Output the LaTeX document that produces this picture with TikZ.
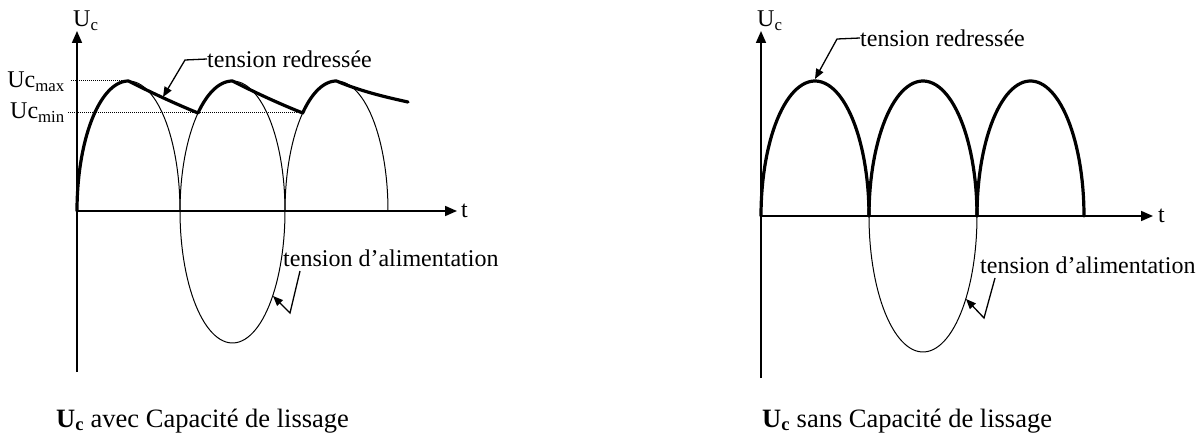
\documentclass[tikz,border=0pt]{standalone}
\usepackage{fontspec}
\setmainfont{Liberation Serif}
\usetikzlibrary{arrows.meta}

\begin{document}
\begin{tikzpicture}[
    x=1pt, y=-1pt,
    axis/.style={line width=1.7pt, -{Triangle[length=12pt, width=10pt]}},
    wave/.style={line width=1pt, samples=60},
    redr/.style={line width=3.2pt, samples=60, line join=round, line cap=round},
    lead/.style={line width=1.3pt, -{Triangle[length=10pt, width=8pt]}},
    dotl/.style={line width=1pt, densely dotted},
    lbl/.style={font=\fontsize{24}{27}\selectfont, inner sep=0pt, anchor=west},
    ax/.style={font=\fontsize{24}{26}\selectfont, inner sep=0pt},
    captxt/.style={font=\fontsize{26.5}{30}\selectfont, inner sep=0pt, anchor=base west}
  ]
  \useasboundingbox (0,0) rectangle (1203,441);

  % avec capacite de lissage
  \coordinate (oL) at (77,211);
  \coordinate (bL) at (77,372);
  \coordinate (yL) at (77,31);
  \coordinate (xL) at (457,211);
  \coordinate (pk1) at (128.5,81);
  \coordinate (vl2) at (302.7,113);
  \draw[axis] (bL) -- (yL);
  \draw[axis] (oL) -- (xL);
  \node[ax, anchor=west] (uL) at (73,21) {U\textsubscript{c}};
  \node[ax, anchor=west] (tL) at (461,211) {t};
  \node[ax, anchor=east] (maxL) at (65,82) {Uc\textsubscript{max}};
  \node[ax, anchor=east] (minL) at (65,113) {Uc\textsubscript{min}};
  \draw[dotl] (maxL.east |- pk1) ++(6,0) -- (pk1);
  \draw[dotl] (minL.east |- vl2) ++(3,0) -- (vl2);
  \foreach \cx/\rx in {128.5/51.5, 232.5/52.5, 336.5/51.5}
    \draw[wave] plot[domain=0:180] ({\cx-\rx*cos(\x)},{211-130*sin(\x)});
  \draw[wave] plot[domain=0:180] ({232.5-52.5*cos(\x)},{211+132*sin(\x)});
  \draw[redr] plot[domain=0:90] ({128.5-51.5*cos(\x)},{211-130*sin(\x)})
    .. controls (152,93) and (176,104) .. (198,113)
    -- plot[domain=48.9:90] ({232.5-52.5*cos(\x)},{211-130*sin(\x)})
    .. controls (256,93) and (280,104) .. (vl2)
    -- plot[domain=48.9:90] ({336.5-51.5*cos(\x)},{211-130*sin(\x)})
    .. controls (360,91) and (385,97) .. (408,102);
  \node[lbl] (redL) at (207,59) {tension redressée};
  \coordinate (kL) at (185,60);
  \coordinate (pL) at (163,97);
  \draw[lead] (redL.west) -- (kL) -- (pL);
  \node[lbl] (aliL) at (283,258) {tension d’alimentation};
  \coordinate (aLa) at (300,271);
  \coordinate (aLb) at (290,313);
  \coordinate (aLc) at (273,296);
  \draw[lead] (aLa) -- (aLb) -- (aLc);
  \node[captxt] (capL) at (56,427) {\textbf{U\textsubscript{c}} avec Capacité de lissage};

  % sans capacite de lissage
  \coordinate (oR) at (761,216);
  \coordinate (bR) at (761,378);
  \coordinate (yR) at (761,31);
  \coordinate (xR) at (1153,216);
  \draw[axis] (bR) -- (yR);
  \draw[axis] (oR) -- (xR);
  \node[ax, anchor=west] (uR) at (757,21) {U\textsubscript{c}};
  \node[ax, anchor=west] (tR) at (1158,216) {t};
  \draw[wave] plot[domain=0:180] ({923-54*cos(\x)},{216+136*sin(\x)});
  \foreach \cx/\rx in {815/54, 923/54, 1030.5/53.5}
    \draw[redr] plot[domain=0:180] ({\cx-\rx*cos(\x)},{216-135*sin(\x)});
  \node[lbl] (redR) at (860,38) {tension redressée};
  \coordinate (kR) at (837,39);
  \coordinate (pR) at (815,79);
  \draw[lead] (redR.west) -- (kR) -- (pR);
  \node[lbl] (aliR) at (980,265) {tension d’alimentation};
  \coordinate (aRa) at (995,278);
  \coordinate (aRb) at (984,318);
  \coordinate (aRc) at (966,299);
  \draw[lead] (aRa) -- (aRb) -- (aRc);
  \node[captxt] (capR) at (762,427) {\textbf{U\textsubscript{c}} sans Capacité de lissage};
\end{tikzpicture}
\end{document}
